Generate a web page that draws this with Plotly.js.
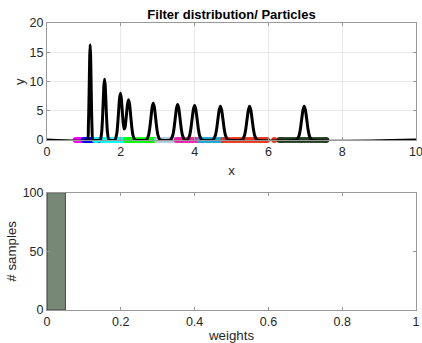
<!DOCTYPE html>
<html>
<head>
<meta charset="utf-8">
<script src="https://cdn.plot.ly/plotly-3.0.1.min.js"></script>
<style>html,body{margin:0;padding:0;background:#fff;}#chart{width:422px;height:343px;}</style>
</head>
<body>
<div id="chart"></div>
<script>
// ---- Filter distribution (black curve) ----
const curveX = [0,
  1.096, 1.121, 1.133, 1.146, 1.158, 1.17, 1.182, 1.195, 1.207, 1.219, 1.244,
  1.445, 1.483, 1.502, 1.522, 1.541, 1.56, 1.579, 1.598, 1.618, 1.637, 1.675,
  1.84, 1.89, 1.915, 1.94, 1.965, 1.99, 2.015, 2.04, 2.065, 2.09, 2.115, 2.15, 2.18, 2.21, 2.24, 2.27, 2.297, 2.326, 2.384,
  2.69, 2.753, 2.785, 2.817, 2.848, 2.88, 2.912, 2.943, 2.975, 3.007, 3.07,
  3.344, 3.409, 3.442, 3.475, 3.507, 3.54, 3.573, 3.605, 3.638, 3.671, 3.736,
  3.797, 3.865, 3.899, 3.932, 3.966, 4.0, 4.034, 4.068, 4.101, 4.135, 4.203,
  4.494, 4.562, 4.597, 4.631, 4.666, 4.70, 4.734, 4.769, 4.803, 4.838, 4.906,
  5.284, 5.352, 5.387, 5.421, 5.456, 5.49, 5.524, 5.559, 5.593, 5.628, 5.696,
  6.764, 6.832, 6.867, 6.901, 6.936, 6.97, 7.004, 7.039, 7.073, 7.108, 7.176,
  10];
const curveY = [0,
  0, 2.20, 5.30, 9.89, 14.38, 16.3, 14.38, 9.89, 5.30, 2.20, 0,
  0, 1.40, 3.38, 6.31, 9.17, 10.4, 9.17, 6.31, 3.38, 1.40, 0,
  0, 1.08, 2.60, 4.86, 7.06, 8.0, 7.08, 4.95, 2.90, 1.89, 2.15, 4.10, 6.03, 6.9, 6.03, 4.05, 2.24, 0.93, 0,
  0, 0.85, 2.05, 3.82, 5.56, 6.3, 5.56, 3.82, 2.05, 0.85, 0,
  0, 0.82, 1.98, 3.70, 5.38, 6.1, 5.38, 3.70, 1.98, 0.82, 0,
  0, 0.80, 1.92, 3.58, 5.20, 5.9, 5.20, 3.58, 1.92, 0.80, 0,
  0, 0.78, 1.89, 3.52, 5.12, 5.8, 5.12, 3.52, 1.89, 0.78, 0,
  0, 0.78, 1.89, 3.52, 5.12, 5.8, 5.12, 3.52, 1.89, 0.78, 0,
  0, 0.78, 1.89, 3.52, 5.12, 5.8, 5.12, 3.52, 1.89, 0.78, 0,
  0];

// ---- Particles (positions on the x axis), grouped by colour ----
const particlesMagenta = [0.78, 0.82, 0.86, 0.90, 0.94, 0.97];
const particlesBlue = [1.00, 1.04, 1.08, 1.12, 1.16, 1.20, 1.24, 1.42];
const particlesCyan = [1.30, 1.35, 1.48, 1.53, 1.58, 1.64, 1.70, 1.76, 1.82, 1.88, 1.94, 2.00, 2.06, 2.10];
const particlesGreen = [2.14, 2.20, 2.26, 2.32, 2.40, 2.48, 2.56, 2.64, 2.72, 2.80, 2.88, 2.93];
const particlesSteel = [2.98, 3.05, 3.12, 3.20, 3.28, 3.36, 3.44, 3.48];
const particlesPink = [3.52, 3.58, 3.64, 3.70, 3.78, 3.86, 3.94, 4.02, 4.10];
const particlesSky = [4.14, 4.20, 4.28, 4.36, 4.44, 4.52, 4.60, 4.68, 4.74];
const particlesRed = [4.78, 4.86, 4.94, 5.02, 5.10, 5.18, 5.26, 5.34, 5.42, 5.50, 5.58, 5.66, 5.74, 5.82, 5.90, 5.96, 6.16];
const particlesDarkGreen = [6.30, 6.36, 6.42, 6.50, 6.58, 6.66, 6.74, 6.82, 6.90, 6.98, 7.06, 7.14, 7.22, 7.30, 7.38, 7.46, 7.52, 7.57];

// ---- Histogram of weights ----
const weightBinCenters = [0.025];
const weightCounts = [100];

const xTicksTop = [0, 2, 4, 6, 8, 10];
const yTicksTop = [0, 5, 10, 15, 20];
const xTicksBottom = [0, 0.2, 0.4, 0.6, 0.8, 1];
const yTicksBottom = [0, 50, 100];

const groups = [
  [particlesMagenta, '#ff00ff'],
  [particlesBlue, '#0000ff'],
  [particlesCyan, '#00ffff'],
  [particlesGreen, '#00ff00'],
  [particlesSteel, '#b4c6df'],
  [particlesPink, '#f21ea8'],
  [particlesSky, '#14a6d8'],
  [particlesRed, '#e8361c'],
  [particlesDarkGreen, '#223d22']
];

const traces = groups.map(([xs, c]) => ({
  type: 'scatter', mode: 'markers', x: xs, y: xs.map(() => 0),
  marker: {color: c, size: 6, symbol: 'circle'},
  xaxis: 'x', yaxis: 'y', showlegend: false, hoverinfo: 'none', cliponaxis: false
}));

traces.push({
  type: 'scatter', mode: 'lines', x: curveX, y: curveY,
  line: {color: '#000000', width: 3, shape: 'spline', smoothing: 0.4},
  xaxis: 'x', yaxis: 'y', showlegend: false, hoverinfo: 'none', cliponaxis: false
});

traces.push({
  type: 'bar', x: weightBinCenters, y: weightCounts, width: 0.05,
  marker: {color: '#778877', line: {color: '#2b2b2b', width: 0.8}},
  xaxis: 'x2', yaxis: 'y2', showlegend: false, hoverinfo: 'none'
});

const FONT = 'Liberation Sans, Arial, sans-serif';
const TITLEFONT = {family: FONT, size: 13.3, color: '#262626'};
const axBase = {
  showline: true, linecolor: '#999999', linewidth: 1, mirror: 'ticks',
  ticks: 'inside', ticklen: 3, tickcolor: '#999999', tickwidth: 1,
  zeroline: false, tickfont: {family: FONT, size: 12.5, color: '#262626'},
  ticklabeloverflow: 'allow', fixedrange: true
};

const layout = {
  width: 422, height: 343,
  margin: {l: 47, r: 6, t: 23, b: 33},
  paper_bgcolor: '#ffffff', plot_bgcolor: '#ffffff',
  font: {family: FONT, color: '#262626'},
  title: {text: 'Filter distribution/ Particles', font: {family: FONT, size: 13, weight: 'bold', color: '#000'},
          x: 0.5, xref: 'paper', y: 1 - 14/343, yref: 'container', yanchor: 'middle'},
  xaxis: Object.assign({}, axBase, {
    domain: [0, 1], anchor: 'y', range: [0, 10], tickvals: xTicksTop, ticktext: xTicksTop.map(String),
    showgrid: true, gridcolor: '#e8e8e8',
    title: {text: 'x', font: TITLEFONT, standoff: 7}
  }),
  yaxis: Object.assign({}, axBase, {
    domain: [0.592, 1], anchor: 'x', range: [0, 20], tickvals: yTicksTop, ticktext: yTicksTop.map(String),
    showgrid: true, gridcolor: '#e8e8e8',
    title: {text: 'y', font: TITLEFONT, standoff: 1}
  }),
  xaxis2: Object.assign({}, axBase, {
    domain: [0, 1], anchor: 'y2', range: [0, 1], tickvals: xTicksBottom, ticktext: xTicksBottom.map(String),
    showgrid: false,
    title: {text: 'weights', font: TITLEFONT, standoff: 8}
  }),
  yaxis2: Object.assign({}, axBase, {
    domain: [0, 0.4087], anchor: 'x2', range: [0, 100], tickvals: yTicksBottom, ticktext: yTicksBottom.map(String),
    showgrid: false,
    title: {text: '# samples', font: TITLEFONT, standoff: 2.5}
  }),
  bargap: 0
};

Plotly.newPlot('chart', traces, layout, {staticPlot: true, displayModeBar: false});
</script>
</body>
</html>
